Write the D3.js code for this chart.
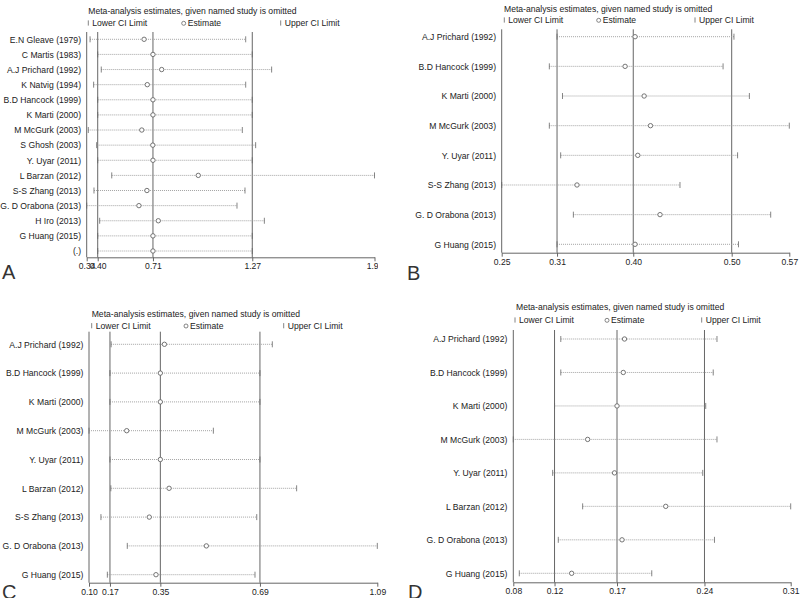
<!DOCTYPE html>
<html><head><meta charset="utf-8">
<script src="https://cdn.jsdelivr.net/npm/d3@7"></script>
<style>body{margin:0;background:#fff} svg{display:block} text{font-family:"Liberation Sans",Arial,sans-serif;}</style>
</head><body><svg id="c" width="800" height="598"></svg>
<script>
const titleText = "Meta-analysis estimates, given named study is omitted";
const legendLabels = ["Lower CI Limit","Estimate","Upper CI Limit"];

// Panel A
const studiesA = ["E.N Gleave (1979)","C Martis (1983)","A.J Prichard (1992)","K Natvig (1994)","B.D Hancock (1999)","K Marti (2000)","M McGurk (2003)","S Ghosh (2003)","Y. Uyar (2011)","L Barzan (2012)","S-S Zhang (2013)","G. D Orabona (2013)","H Iro (2013)","G Huang (2015)","(.)"];
const lowerA = [0.359,0.402,0.422,0.379,0.402,0.402,0.349,0.396,0.402,0.481,0.381,0.340,0.413,0.402,0.402];
const estA   = [0.663,0.713,0.762,0.681,0.713,0.713,0.650,0.712,0.713,0.968,0.679,0.634,0.743,0.713,0.713];
const upperA = [1.235,1.272,1.381,1.235,1.272,1.272,1.216,1.291,1.272,1.960,1.231,1.186,1.340,1.272,1.272];
const overallA = [0.402,0.713,1.272];
const domainA = [0.34,1.96];
const tickLabelsA = ["0.34","0.40","0.71","1.27","1.96"];

// Panel B
const studiesB = ["A.J Prichard (1992)","B.D Hancock (1999)","K Marti (2000)","M McGurk (2003)","Y. Uyar (2011)","S-S Zhang (2013)","G. D Orabona (2013)","G Huang (2015)"];
const lowerB = [0.311,0.3025,0.317,0.3025,0.315,0.250,0.329,0.311];
const estB   = [0.397,0.386,0.407,0.414,0.400,0.333,0.4245,0.397];
const upperB = [0.506,0.494,0.523,0.567,0.510,0.4465,0.5465,0.511];
const overallB = [0.311,0.395,0.5035];
const domainB = [0.25,0.567];
const tickLabelsB = ["0.25","0.31","0.40","0.50","0.57"];

// Panel C
const studiesC = ["A.J Prichard (1992)","B.D Hancock (1999)","K Marti (2000)","M McGurk (2003)","Y. Uyar (2011)","L Barzan (2012)","S-S Zhang (2013)","G. D Orabona (2013)","G Huang (2015)"];
const lowerC = [0.176,0.172,0.172,0.100,0.172,0.175,0.141,0.2315,0.163];
const estC   = [0.359,0.345,0.345,0.2295,0.345,0.375,0.307,0.503,0.330];
const upperC = [0.7295,0.687,0.687,0.527,0.687,0.813,0.676,1.09,0.670];
const overallC = [0.172,0.345,0.687];
const domainC = [0.10,1.09];
const tickLabelsC = ["0.10","0.17","0.35","0.69","1.09"];

// Panel D
const studiesD = ["A.J Prichard (1992)","B.D Hancock (1999)","K Marti (2000)","M McGurk (2003)","Y. Uyar (2011)","L Barzan (2012)","G. D Orabona (2013)","G Huang (2015)"];
const lowerD = [0.125,0.125,0.120,0.087,0.1185,0.1425,0.123,0.0918];
const estD   = [0.176,0.175,0.170,0.1465,0.168,0.209,0.174,0.1337];
const upperD = [0.250,0.247,0.241,0.250,0.2386,0.309,0.248,0.1978];
const overallD = [0.120,0.170,0.240];
const domainD = [0.087,0.309];
const tickLabelsD = ["0.08","0.12","0.17","0.24","0.31"];

const panels = [
  {letter:"A", studies:studiesA, lower:lowerA, est:estA, upper:upperA, overall:overallA, domain:domainA, labels:tickLabelsA,
   L:{x0:86.7,x1:374.5,top:32,bottom:257.3,row0:39.3,row1:251,labelX:81,titleX:88.3,titleY:14,legY:23,legX:[88.3,183.7,280.7],letX:2,letY:279,clip:378}},
  {letter:"B", studies:studiesB, lower:lowerB, est:estB, upper:upperB, overall:overallB, domain:domainB, labels:tickLabelsB,
   L:{x0:501.7,x1:789.3,top:29.3,bottom:252.7,row0:36.7,row1:244.3,labelX:496,titleX:504,titleY:12,legY:20,legX:[504.3,598.7,695],letX:407,letY:280,clip:null}},
  {letter:"C", studies:studiesC, lower:lowerC, est:estC, upper:upperC, overall:overallC, domain:domainC, labels:tickLabelsC,
   L:{x0:89,x1:377.3,top:331.7,bottom:582.7,row0:344.3,row1:574.7,labelX:83.3,titleX:91.7,titleY:317,legY:325.7,legX:[91.7,186,283.7],letX:2,letY:599,clip:null}},
  {letter:"D", studies:studiesD, lower:lowerD, est:estD, upper:upperD, overall:overallD, domain:domainD, labels:tickLabelsD,
   L:{x0:513.3,x1:790.7,top:330,bottom:582.3,row0:339,row1:573.3,labelX:507.3,titleX:516,titleY:310,legY:320,legX:[515,607,701.7],letX:408,letY:599,clip:null}}
];

const svg = d3.select("#c");
const FS = 8.6;
const txt = "#222", axisC = "#666", refC = "#666", dotC = "#9a9a9a", markC = "#666";

panels.forEach((p, pi) => {
  const L = p.L;
  let g = svg.append("g");
  if (L.clip) {
    const id = "clip" + pi;
    svg.append("clipPath").attr("id", id).append("rect").attr("x", 0).attr("y", 0).attr("width", L.clip).attr("height", 300);
    g.attr("clip-path", `url(#${id})`);
  }
  const x = d3.scaleLinear().domain(p.domain).range([L.x0, L.x1]);
  const y = d3.scalePoint().domain(p.studies).range([L.row0, L.row1]);

  // title + legend
  g.append("text").attr("x", L.titleX).attr("y", L.titleY).attr("font-size", FS).attr("fill", txt).text(titleText);
  const ly = L.legY;
  g.append("line").attr("x1", L.legX[0]).attr("x2", L.legX[0]).attr("y1", ly - 2.6).attr("y2", ly + 2.6).attr("stroke", markC).attr("stroke-width", 0.8);
  g.append("text").attr("x", L.legX[0] + 4).attr("y", ly + 3).attr("font-size", FS).attr("fill", txt).text(legendLabels[0]);
  g.append("circle").attr("cx", L.legX[1]).attr("cy", ly + 0.3).attr("r", 2).attr("fill", "#fff").attr("stroke", markC).attr("stroke-width", 0.8);
  g.append("text").attr("x", L.legX[1] + 4).attr("y", ly + 3).attr("font-size", FS).attr("fill", txt).text(legendLabels[1]);
  g.append("line").attr("x1", L.legX[2]).attr("x2", L.legX[2]).attr("y1", ly - 2.6).attr("y2", ly + 2.6).attr("stroke", markC).attr("stroke-width", 0.8);
  g.append("text").attr("x", L.legX[2] + 4).attr("y", ly + 3).attr("font-size", FS).attr("fill", txt).text(legendLabels[2]);

  // reference lines
  g.selectAll(".ref").data(p.overall).enter().append("line")
    .attr("x1", d => x(d)).attr("x2", d => x(d)).attr("y1", L.top).attr("y2", L.bottom)
    .attr("stroke", refC).attr("stroke-width", 1);

  // y axis line
  g.append("line").attr("x1", L.x0).attr("x2", L.x0).attr("y1", L.top).attr("y2", L.bottom).attr("stroke", axisC).attr("stroke-width", 1);

  // y labels via axis
  const ya = g.append("g").attr("transform", `translate(${L.x0},0)`)
    .call(d3.axisLeft(y).tickSize(0).tickPadding(L.x0 - L.labelX));
  ya.select(".domain").remove();
  ya.selectAll("text").attr("font-size", FS).attr("fill", txt).attr("font-family", '"Liberation Sans",Arial,sans-serif');

  // x axis
  const tv = [p.domain[0], ...p.overall, p.domain[1]];
  const xa = g.append("g").attr("transform", `translate(0,${L.bottom})`)
    .call(d3.axisBottom(x).tickValues(tv).tickFormat((d, i) => p.labels[i]).tickSize(4).tickSizeOuter(0).tickPadding(2));
  xa.select(".domain").attr("stroke", axisC);
  xa.selectAll(".tick line").attr("stroke", axisC);
  xa.selectAll("text").attr("font-size", FS).attr("fill", txt).attr("font-family", '"Liberation Sans",Arial,sans-serif');

  // rows
  const rows = p.studies.map((s, i) => ({s, lo: p.lower[i], e: p.est[i], hi: p.upper[i]}));
  const rg = g.selectAll(".row").data(rows).enter().append("g");
  rg.append("line").attr("x1", d => x(d.lo)).attr("x2", d => x(d.hi)).attr("y1", d => y(d.s)).attr("y2", d => y(d.s))
    .attr("stroke", dotC).attr("stroke-width", 0.9).attr("stroke-dasharray", "1,1");
  rg.append("line").attr("x1", d => x(d.lo)).attr("x2", d => x(d.lo)).attr("y1", d => y(d.s) - 3).attr("y2", d => y(d.s) + 3)
    .attr("stroke", markC).attr("stroke-width", 0.8);
  rg.append("line").attr("x1", d => x(d.hi)).attr("x2", d => x(d.hi)).attr("y1", d => y(d.s) - 3).attr("y2", d => y(d.s) + 3)
    .attr("stroke", markC).attr("stroke-width", 0.8);
  rg.append("circle").attr("cx", d => x(d.e)).attr("cy", d => y(d.s)).attr("r", 2.2)
    .attr("fill", "#fff").attr("stroke", markC).attr("stroke-width", 0.9);

  // panel letter
  svg.append("text").attr("x", L.letX).attr("y", L.letY).attr("font-size", 20).attr("fill", "#333").text(p.letter);
});
</script></body></html>
